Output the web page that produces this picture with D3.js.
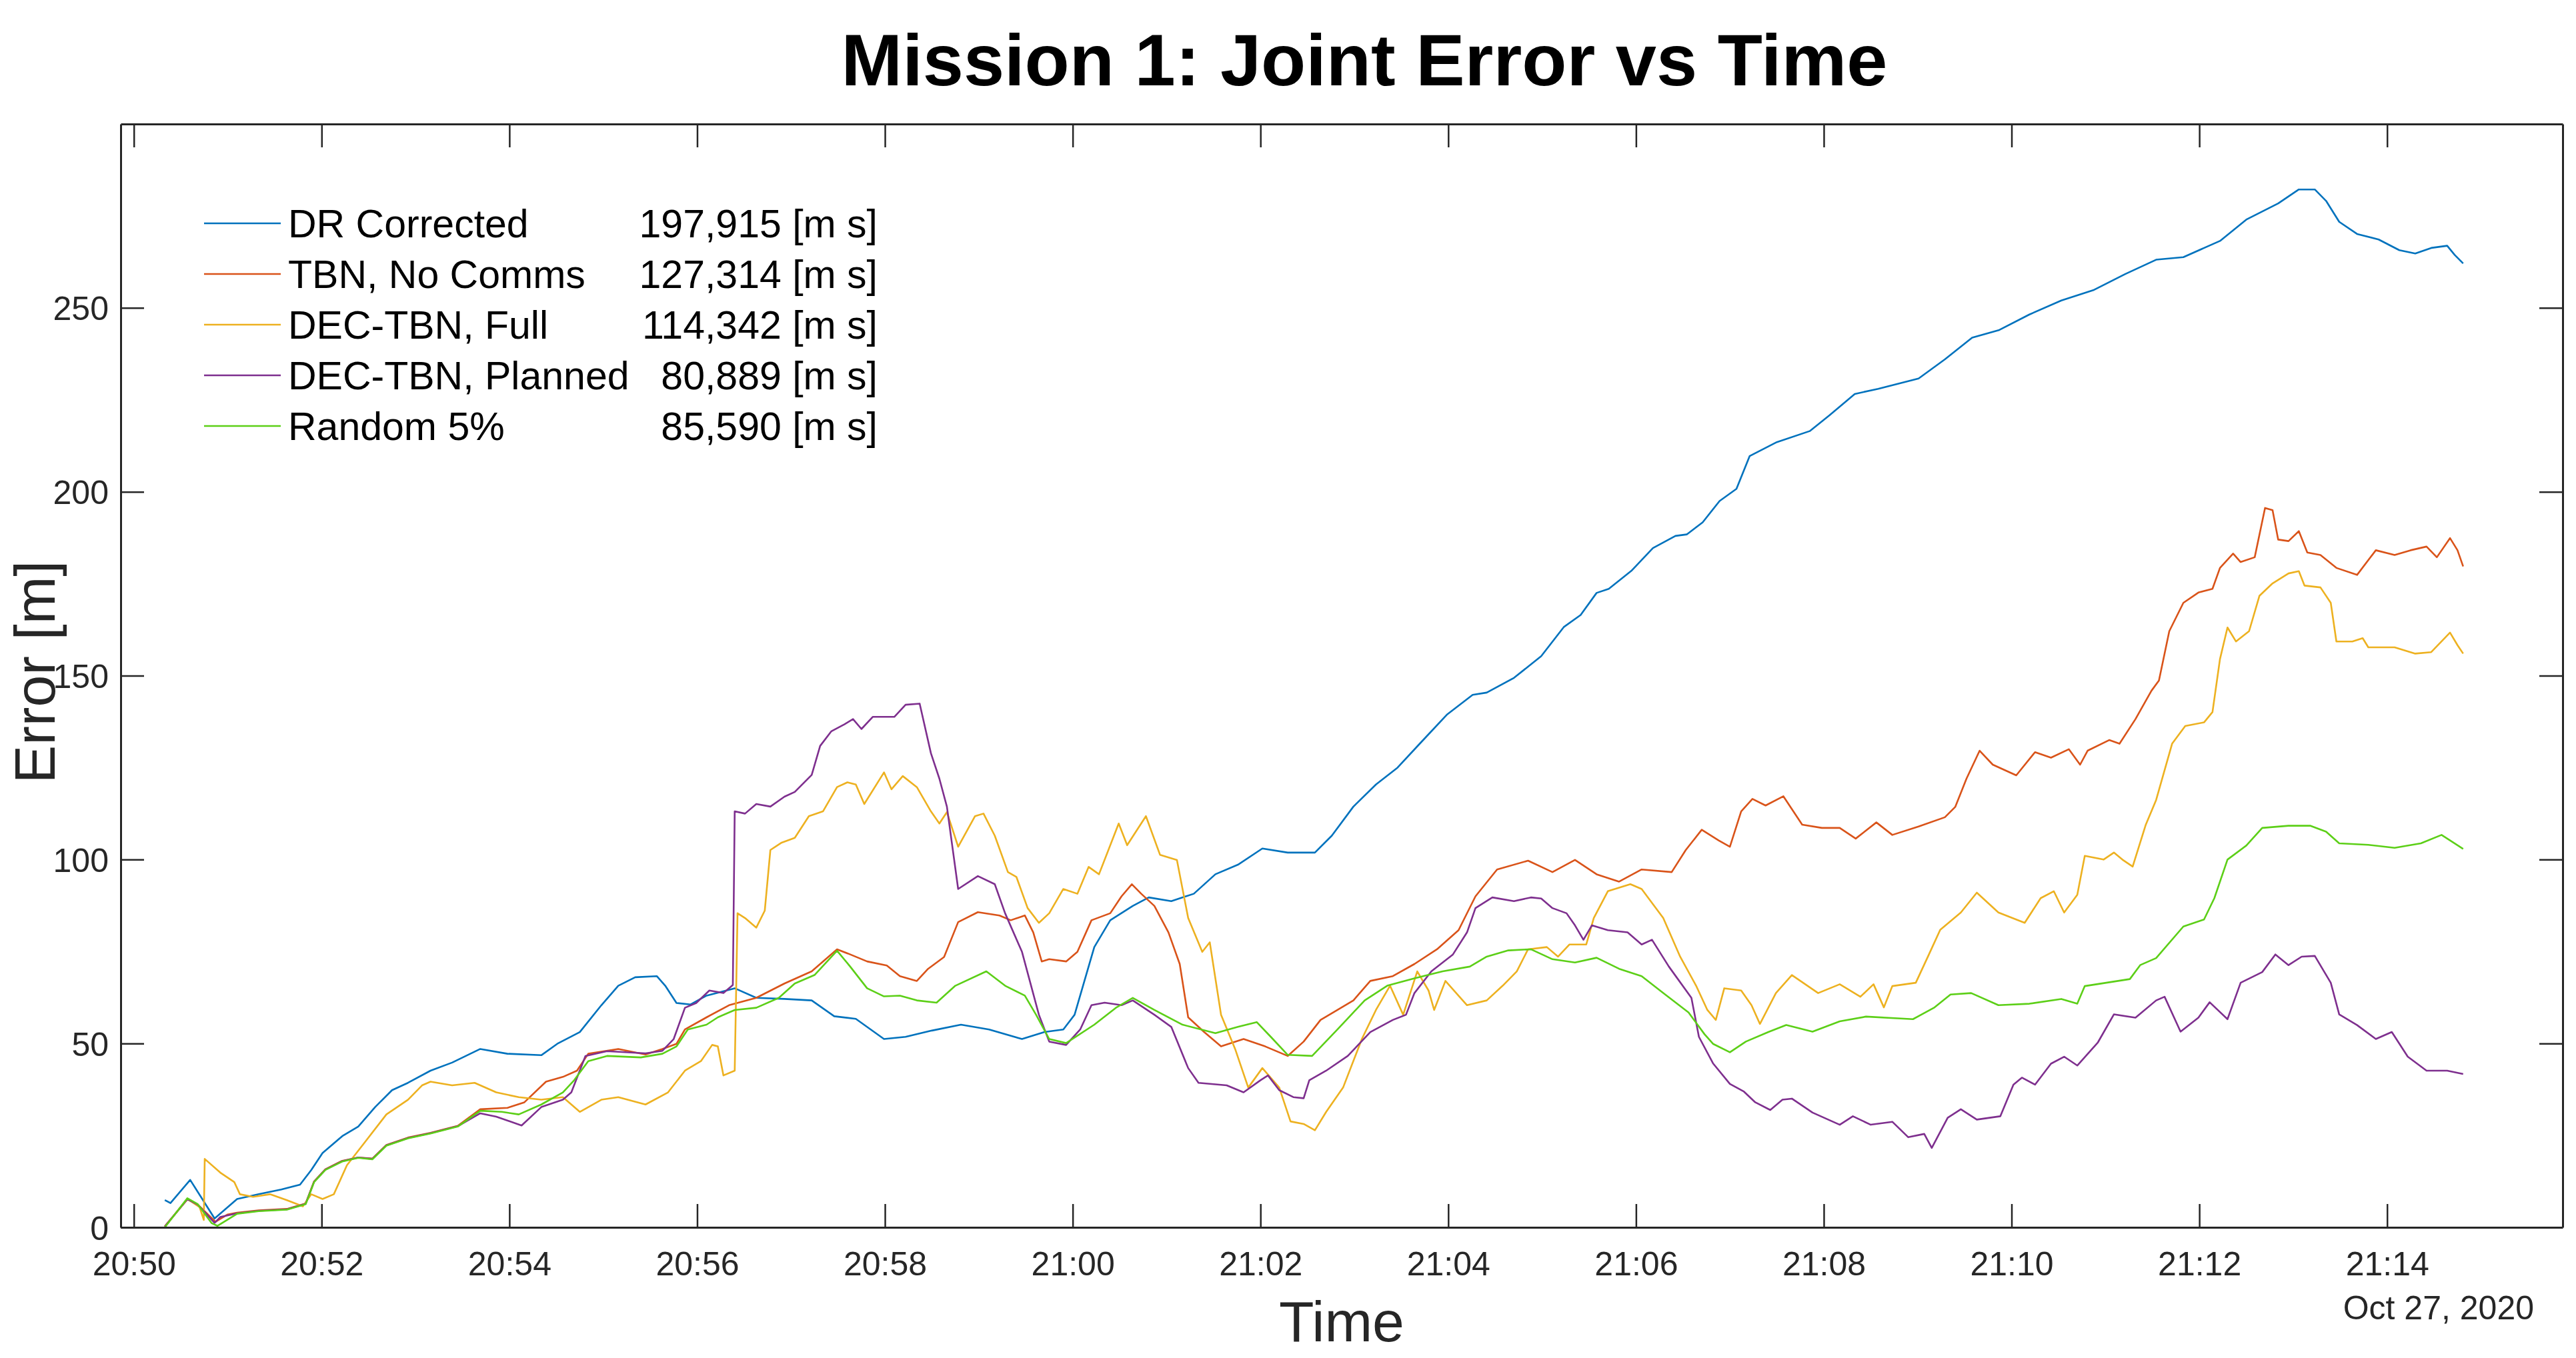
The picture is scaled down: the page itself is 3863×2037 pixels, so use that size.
<!DOCTYPE html>
<html>
<head>
<meta charset="utf-8">
<script src="https://cdn.jsdelivr.net/npm/d3@7"></script>
<style>
  html, body { margin: 0; padding: 0; background: #ffffff; }
  svg { display: block; }
  text { font-family: "Liberation Sans", Arial, Helvetica, sans-serif; }
</style>
</head>
<body>
<svg id="chart" width="3863" height="2037"></svg>
<script>
// ---------------- DATA (time = minutes after 20:50:00 on Oct 27, 2020; value = error [m]) ----------------
const seriesNames = ["DR Corrected", "TBN, No Comms", "DEC-TBN, Full", "DEC-TBN, Planned", "Random 5%"];
const seriesTotals = ["197,915 [m s]", "127,314 [m s]", "114,342 [m s]", "80,889 [m s]", "85,590 [m s]"];
const seriesColors = ["#0072BD", "#D95319", "#EDB120", "#7E2F8E", "#5CCF17"];

const drCorrected = [[0.33,7.4],[0.39,6.6],[0.6,12.9],[0.86,2.4],[1.10,7.7],[1.33,9.0],[1.57,10.3],[1.77,11.6],[1.89,15.6],[2.01,20.2],[2.22,24.8],[2.39,27.4],[2.57,32.7],[2.75,37.3],[2.92,39.3],[3.16,42.6],[3.39,44.8],[3.69,48.5],[3.98,47.2],[4.34,46.8],[4.51,49.9],[4.75,53.1],[4.98,60.4],[5.16,65.7],[5.34,68.0],[5.57,68.3],[5.66,65.7],[5.78,61.0],[5.93,60.6],[6.10,63.0],[6.40,65.0],[6.63,62.4],[6.93,62.1],[7.22,61.7],[7.46,57.4],[7.69,56.7],[7.99,51.2],[8.22,51.8],[8.50,53.5],[8.81,55.1],[9.11,53.8],[9.46,51.2],[9.70,53.1],[9.90,53.8],[10.02,57.8],[10.11,65.7],[10.23,76.2],[10.40,83.5],[10.64,87.4],[10.81,89.7],[11.05,88.7],[11.29,90.7],[11.52,96.0],[11.76,98.6],[12.02,103.0],[12.29,101.9],[12.58,101.9],[12.76,106.5],[12.99,114.4],[13.23,120.4],[13.46,125.0],[13.70,131.6],[13.99,139.5],[14.26,144.8],[14.41,145.4],[14.70,149.4],[14.99,155.3],[15.23,163.2],[15.41,166.5],[15.58,172.5],[15.71,173.6],[15.95,178.5],[16.18,184.7],[16.42,188.0],[16.54,188.4],[16.71,191.7],[16.89,197.5],[17.07,200.8],[17.21,209.7],[17.50,213.5],[17.85,216.5],[18.06,220.8],[18.33,226.6],[18.58,228.0],[19.01,230.8],[19.29,236.0],[19.58,241.9],[19.87,244.0],[20.19,248.2],[20.53,252.0],[20.87,254.8],[21.21,259.2],[21.54,263.1],[21.83,263.8],[22.22,268.2],[22.50,274.0],[22.84,278.4],[23.06,282.2],[23.23,282.2],[23.35,279.1],[23.49,273.4],[23.68,270.1],[23.91,268.6],[24.13,265.7],[24.30,264.8],[24.47,266.3],[24.64,266.9],[24.72,264.4],[24.81,262.1]];

const tbnNoComms = [[0.33,0.3],[0.57,7.6],[0.68,6.2],[0.87,1.5],[1.0,3.5],[1.10,4.0],[1.33,4.6],[1.63,5.0],[1.83,6.5],[1.92,12.5],[2.04,15.8],[2.22,18.1],[2.39,19.0],[2.54,18.7],[2.69,22.4],[2.92,24.4],[3.16,25.7],[3.45,27.6],[3.69,32.1],[3.98,32.5],[4.16,34.0],[4.39,39.6],[4.57,40.9],[4.72,42.6],[4.84,47.2],[5.16,48.5],[5.45,47.0],[5.63,48.5],[5.78,49.9],[5.87,53.8],[6.10,57.1],[6.34,60.4],[6.63,62.4],[6.93,66.3],[7.22,69.6],[7.49,75.6],[7.63,74.2],[7.81,72.3],[8.02,71.2],[8.16,68.3],[8.34,67.0],[8.46,70.3],[8.63,73.5],[8.78,83.0],[8.99,85.7],[9.22,84.8],[9.34,83.5],[9.49,84.8],[9.58,80.2],[9.67,72.3],[9.75,72.9],[9.93,72.3],[10.05,74.9],[10.20,83.5],[10.40,85.4],[10.52,90.0],[10.63,93.3],[10.73,90.7],[10.87,87.4],[11.02,80.2],[11.14,71.6],[11.23,57.1],[11.40,53.1],[11.58,49.2],[11.82,51.2],[12.05,49.2],[12.29,46.6],[12.46,50.5],[12.64,56.4],[12.82,59.1],[12.99,61.7],[13.17,67.0],[13.41,68.3],[13.64,71.6],[13.88,75.6],[14.11,80.8],[14.29,90.0],[14.52,97.3],[14.85,99.7],[15.11,96.6],[15.35,99.9],[15.58,96.0],[15.82,94.0],[16.06,97.3],[16.38,96.6],[16.53,102.6],[16.70,108.1],[16.88,105.2],[17.00,103.5],[17.12,113.1],[17.24,116.5],[17.38,114.7],[17.57,117.2],[17.77,109.5],[17.98,108.6],[18.17,108.6],[18.34,105.7],[18.56,110.1],[18.73,106.7],[19.01,109.0],[19.29,111.5],[19.40,114.3],[19.52,122.0],[19.66,129.6],[19.80,125.8],[20.05,122.9],[20.25,129.2],[20.42,127.7],[20.61,130.0],[20.73,125.8],[20.81,129.6],[21.04,132.5],[21.15,131.5],[21.32,138.2],[21.49,145.9],[21.57,148.7],[21.68,162.1],[21.83,169.8],[21.99,172.6],[22.14,173.6],[22.22,179.3],[22.36,183.2],[22.44,180.9],[22.59,182.2],[22.70,195.6],[22.78,195.0],[22.84,187.0],[22.95,186.6],[23.06,189.3],[23.15,183.5],[23.29,182.8],[23.46,179.3],[23.68,177.4],[23.88,184.1],[24.08,182.8],[24.25,184.1],[24.42,185.1],[24.53,182.2],[24.67,187.4],[24.75,184.1],[24.81,179.7]];

const decTbnFull = [[0.33,0.2],[0.57,7.7],[0.70,5.5],[0.745,2.0],[0.755,18.6],[0.92,14.9],[1.07,12.3],[1.13,9.0],[1.27,8.3],[1.45,9.0],[1.63,7.4],[1.80,5.7],[1.89,9.0],[2.01,7.7],[2.13,9.0],[2.27,16.9],[2.45,22.8],[2.69,30.7],[2.92,34.7],[3.07,38.6],[3.16,39.6],[3.39,38.6],[3.63,39.3],[3.86,36.7],[4.10,35.4],[4.34,34.7],[4.57,35.4],[4.75,31.4],[4.98,34.7],[5.16,35.4],[5.45,33.4],[5.69,36.7],[5.87,42.6],[6.04,45.2],[6.16,49.6],[6.22,49.2],[6.28,41.3],[6.40,42.6],[6.43,85.4],[6.51,84.1],[6.63,81.5],[6.72,86.1],[6.78,102.6],[6.90,104.6],[7.04,105.9],[7.19,111.8],[7.34,113.1],[7.49,119.7],[7.60,121.0],[7.69,120.4],[7.78,115.1],[7.99,123.7],[8.07,119.1],[8.19,122.7],[8.34,119.7],[8.49,113.1],[8.58,109.8],[8.66,112.9],[8.78,103.5],[8.96,111.8],[9.05,112.5],[9.17,106.5],[9.31,96.6],[9.40,95.3],[9.52,86.8],[9.64,82.8],[9.75,85.4],[9.90,92.0],[10.05,90.7],[10.17,98.0],[10.28,96.0],[10.49,109.8],[10.58,103.9],[10.78,111.8],[10.93,101.3],[11.11,99.9],[11.23,84.1],[11.38,74.9],[11.46,77.5],[11.58,57.8],[11.73,48.5],[11.87,38.0],[12.02,43.3],[12.20,38.0],[12.32,28.8],[12.46,28.1],[12.58,26.4],[12.70,31.4],[12.88,38.0],[13.08,51.2],[13.23,59.1],[13.38,65.7],[13.52,57.8],[13.67,69.6],[13.79,64.4],[13.85,59.1],[13.97,67.0],[14.20,60.4],[14.41,61.7],[14.58,65.7],[14.73,69.6],[14.85,75.6],[15.05,76.2],[15.17,73.6],[15.29,76.9],[15.47,76.9],[15.55,84.1],[15.70,91.4],[15.94,93.3],[16.06,92.0],[16.29,84.1],[16.47,73.6],[16.64,65.7],[16.76,59.1],[16.85,56.4],[16.94,65.0],[17.12,64.4],[17.23,60.4],[17.32,55.3],[17.49,63.7],[17.66,68.6],[17.94,63.7],[18.17,66.1],[18.39,62.7],[18.53,66.1],[18.64,59.8],[18.73,65.6],[18.98,66.5],[19.12,74.2],[19.24,80.9],[19.46,85.6],[19.63,91.0],[19.86,85.6],[20.14,82.8],[20.31,89.5],[20.45,91.4],[20.56,85.6],[20.70,90.4],[20.78,101.0],[20.98,100.0],[21.09,101.9],[21.18,100.0],[21.29,98.1],[21.43,109.5],[21.54,116.2],[21.71,131.5],[21.85,136.3],[22.05,137.3],[22.14,140.1],[22.22,154.5],[22.30,163.1],[22.39,159.3],[22.53,162.1],[22.64,171.7],[22.78,175.1],[22.95,177.8],[23.06,178.4],[23.12,174.5],[23.29,174.0],[23.40,169.8],[23.46,159.3],[23.63,159.3],[23.74,160.2],[23.80,157.7],[24.08,157.7],[24.30,156.0],[24.47,156.4],[24.67,161.7],[24.75,158.3],[24.81,156.0]];

const decTbnPlanned = [[0.33,0.2],[0.57,7.7],[0.68,6.2],[0.86,1.2],[0.92,2.8],[1.10,3.8],[1.33,4.5],[1.63,4.9],[1.83,6.4],[1.92,12.4],[2.04,15.7],[2.22,18.0],[2.39,19.0],[2.54,18.6],[2.69,22.3],[2.92,24.3],[3.16,25.6],[3.45,27.5],[3.69,31.0],[3.86,30.1],[4.13,27.7],[4.34,32.7],[4.57,34.7],[4.66,36.7],[4.81,46.6],[5.04,47.9],[5.45,47.3],[5.63,48.0],[5.75,51.2],[5.87,59.7],[5.99,61.0],[6.13,64.4],[6.28,63.7],[6.38,65.9],[6.40,113.1],[6.51,112.5],[6.63,115.1],[6.78,114.4],[6.93,117.1],[7.04,118.4],[7.22,123.0],[7.31,130.9],[7.43,134.9],[7.57,136.8],[7.66,138.2],[7.75,135.5],[7.87,138.8],[8.10,138.8],[8.22,142.1],[8.37,142.4],[8.49,128.9],[8.58,122.0],[8.66,114.4],[8.78,92.0],[8.99,95.5],[9.17,93.3],[9.28,85.4],[9.46,74.9],[9.64,57.8],[9.75,50.5],[9.93,49.6],[10.08,53.8],[10.20,60.4],[10.34,61.1],[10.52,60.4],[10.64,61.7],[10.87,57.8],[11.05,54.5],[11.23,43.3],[11.34,39.3],[11.64,38.6],[11.82,36.7],[12.00,40.0],[12.08,41.3],[12.20,37.3],[12.35,35.4],[12.46,35.1],[12.52,40.0],[12.70,42.6],[12.93,46.6],[13.17,53.1],[13.41,56.4],[13.55,57.8],[13.64,63.7],[13.82,69.6],[14.05,74.2],[14.20,80.2],[14.29,86.8],[14.47,89.7],[14.70,88.7],[14.88,89.7],[14.99,89.4],[15.11,86.8],[15.26,85.4],[15.35,82.1],[15.44,78.2],[15.53,82.1],[15.70,80.8],[15.91,80.2],[16.06,76.9],[16.17,78.2],[16.35,70.9],[16.59,62.4],[16.67,51.8],[16.82,44.6],[17.00,39.0],[17.15,36.9],[17.27,34.0],[17.43,31.9],[17.56,34.7],[17.66,35.0],[17.88,31.2],[18.17,27.9],[18.31,30.2],[18.50,27.9],[18.73,28.7],[18.90,24.5],[19.07,25.4],[19.15,21.6],[19.32,29.8],[19.46,32.1],[19.63,29.3],[19.88,30.2],[20.02,38.8],[20.11,40.7],[20.25,38.8],[20.42,44.5],[20.56,46.4],[20.70,44.0],[20.92,50.3],[21.09,57.9],[21.32,57.0],[21.54,61.7],[21.63,62.7],[21.80,53.2],[21.99,57.0],[22.11,61.2],[22.30,56.6],[22.44,66.5],[22.67,69.4],[22.81,74.2],[22.95,71.3],[23.09,73.6],[23.23,73.8],[23.40,66.5],[23.49,57.9],[23.68,55.0],[23.88,51.2],[24.05,53.1],[24.22,46.4],[24.42,42.6],[24.64,42.6],[24.81,41.7]];

const random5 = [[0.33,0],[0.57,7.9],[0.68,6.3],[0.83,1.1],[0.89,0.4],[1.10,3.7],[1.33,4.4],[1.63,4.8],[1.83,6.3],[1.92,12.3],[2.04,15.6],[2.22,17.9],[2.39,18.9],[2.54,18.5],[2.69,22.2],[2.92,24.2],[3.16,25.5],[3.45,27.4],[3.69,31.7],[3.92,31.4],[4.10,30.7],[4.34,33.4],[4.57,36.7],[4.69,40.0],[4.84,45.2],[5.04,46.6],[5.40,46.2],[5.63,47.2],[5.78,49.2],[5.90,53.8],[6.10,55.1],[6.22,57.1],[6.40,59.1],[6.63,59.7],[6.87,62.4],[7.04,66.3],[7.25,68.6],[7.49,75.2],[7.63,70.9],[7.81,65.0],[7.99,62.8],[8.16,63.0],[8.34,61.7],[8.55,61.1],[8.75,65.7],[9.08,69.6],[9.28,65.7],[9.49,63.0],[9.61,57.8],[9.75,51.2],[9.93,50.1],[10.23,55.1],[10.46,59.7],[10.64,62.4],[10.87,59.1],[11.17,55.1],[11.52,52.8],[11.76,54.5],[11.96,55.8],[12.11,51.8],[12.29,46.9],[12.55,46.6],[12.82,53.8],[13.11,61.7],[13.35,65.7],[13.64,67.7],[13.94,69.6],[14.23,70.9],[14.41,73.6],[14.64,75.3],[14.88,75.6],[15.11,72.9],[15.35,72.0],[15.58,73.3],[15.82,70.3],[16.06,68.3],[16.29,63.7],[16.56,58.4],[16.73,52.5],[16.82,49.9],[17.00,47.6],[17.17,50.5],[17.41,53.1],[17.60,55.0],[17.88,53.2],[18.17,56.0],[18.45,57.3],[18.95,56.6],[19.18,59.8],[19.35,63.3],[19.57,63.7],[19.86,60.4],[20.19,60.8],[20.53,62.1],[20.70,60.8],[20.78,65.6],[21.26,67.5],[21.37,71.3],[21.54,73.2],[21.83,81.8],[22.05,83.7],[22.16,89.5],[22.30,100.0],[22.50,103.8],[22.67,108.6],[22.95,109.2],[23.18,109.2],[23.35,107.6],[23.49,104.4],[23.80,104.0],[24.08,103.2],[24.36,104.4],[24.58,106.7],[24.81,102.9]];

const allSeries = [drCorrected, tbnNoComms, decTbnFull, decTbnPlanned, random5];
const yTickValues = [0, 50, 100, 150, 200, 250];
const startTime = new Date(2020, 9, 27, 20, 50, 0);
const xLimMinutes = [-0.14, 25.87];
const yLim = [0, 300];
const chartTitle = "Mission 1: Joint Error vs Time";
const xLabel = "Time";
const yLabel = "Error [m]";
const dateLabel = "Oct 27, 2020";

// ---------------- LAYOUT ----------------
const L = 181, R = 3843, T = 186, B = 1841;
const tickLen = 35;
const axisColor = "#262626";
const toDate = m => new Date(startTime.getTime() + m * 60000);

const svg = d3.select("#chart");
svg.append("rect").attr("width", 3863).attr("height", 2037).attr("fill", "#ffffff");

const x = d3.scaleTime().domain(xLimMinutes.map(toDate)).range([L, R]);
const y = d3.scaleLinear().domain(yLim).range([B, T]);

// clip
svg.append("defs").append("clipPath").attr("id", "plotclip")
  .append("rect").attr("x", L).attr("y", T).attr("width", R - L).attr("height", B - T);

// lines
const line = d3.line().x(d => x(toDate(d[0]))).y(d => y(d[1]));
const gLines = svg.append("g").attr("clip-path", "url(#plotclip)");
allSeries.forEach((s, i) => {
  gLines.append("path").datum(s)
    .attr("d", line)
    .attr("fill", "none")
    .attr("stroke", seriesColors[i])
    .attr("stroke-width", 2.6)
    .attr("stroke-linejoin", "round");
});

// axes
const xTicks = d3.timeMinute.every(2);
const fmt = d3.timeFormat("%H:%M");
function styleAxis(g) {
  g.select(".domain").attr("stroke", axisColor).attr("stroke-width", 3);
  g.selectAll(".tick line").attr("stroke", axisColor).attr("stroke-width", 2.5);
  g.selectAll(".tick text").attr("fill", axisColor).attr("font-size", 50)
    .style("font-family", '"Liberation Sans", Arial, Helvetica, sans-serif');
}
const gx = svg.append("g").attr("transform", `translate(0,${B})`)
  .call(d3.axisBottom(x).ticks(xTicks).tickFormat(fmt).tickSize(-tickLen).tickSizeOuter(0).tickPadding(0));
styleAxis(gx);
gx.selectAll(".tick text").attr("y", 72).attr("dy", null);

const gxTop = svg.append("g").attr("transform", `translate(0,${T})`)
  .call(d3.axisTop(x).ticks(xTicks).tickFormat("").tickSize(-tickLen).tickSizeOuter(0));
styleAxis(gxTop);

const gy = svg.append("g").attr("transform", `translate(${L},0)`)
  .call(d3.axisLeft(y).tickValues(yTickValues).tickFormat(d3.format("d")).tickSize(-tickLen).tickSizeOuter(0).tickPadding(18));
styleAxis(gy);
gy.selectAll(".tick text").attr("dy", "0.36em");

const gyR = svg.append("g").attr("transform", `translate(${R},0)`)
  .call(d3.axisRight(y).tickValues(yTickValues).tickFormat("").tickSize(-tickLen).tickSizeOuter(0));
styleAxis(gyR);

// title & labels
svg.append("text").attr("x", 2046).attr("y", 128).attr("text-anchor", "middle")
  .attr("font-size", 110).attr("font-weight", "bold").attr("fill", "#000").text(chartTitle);
svg.append("text").attr("x", 2012).attr("y", 2012).attr("text-anchor", "middle")
  .attr("font-size", 86).attr("fill", axisColor).text(xLabel);
svg.append("text").attr("transform", `translate(82,1008) rotate(-90)`).attr("text-anchor", "middle")
  .attr("font-size", 86).attr("fill", axisColor).text(yLabel);
svg.append("text").attr("x", 3800).attr("y", 1979).attr("text-anchor", "end")
  .attr("font-size", 50).attr("fill", axisColor).text(dateLabel);

// legend
const lg = svg.append("g");
seriesNames.forEach((name, i) => {
  const ly = 335 + i * 76;
  lg.append("line").attr("x1", 306).attr("x2", 421).attr("y1", ly).attr("y2", ly)
    .attr("stroke", seriesColors[i]).attr("stroke-width", 2.7);
  lg.append("text").attr("x", 432).attr("y", ly + 21).attr("font-size", 59).attr("fill", "#000").text(name);
  lg.append("text").attr("x", 1316).attr("y", ly + 21).attr("text-anchor", "end")
    .attr("font-size", 59).attr("fill", "#000").text(seriesTotals[i]);
});
</script>
</body>
</html>
